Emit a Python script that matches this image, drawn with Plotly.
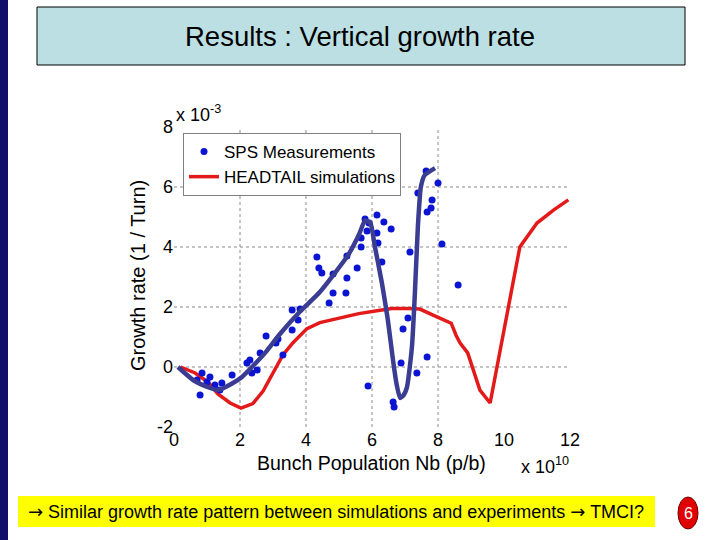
import plotly.graph_objects as go

# ---- data ----
meas_x = [0.70, 0.79, 0.85, 1.00, 1.09, 1.24, 1.39, 1.45, 1.76,
          2.21, 2.30, 2.36, 2.52, 2.61, 2.79, 3.09, 3.15, 3.30, 3.58, 3.76, 3.58, 3.82,
          4.70, 4.82, 5.21, 5.24, 4.82, 4.48, 4.39, 4.33, 5.24, 5.55, 5.67, 5.67,
          5.79, 5.91, 5.85, 6.15, 6.15, 6.18, 6.36, 6.58, 6.30,
          5.88, 6.64, 6.67, 6.88, 6.94, 7.09, 7.15, 7.36, 7.39, 7.64, 7.67, 7.67,
          7.79, 7.82, 8.00, 8.12, 8.61]
meas_y = [-0.43, -0.93, -0.20, -0.50, -0.33, -0.60, -0.77, -0.53, -0.27,
          0.13, 0.23, -0.20, -0.10, 0.47, 1.03, 0.80, 0.93, 0.40, 1.23, 1.57, 1.90, 1.93,
          2.13, 2.47, 2.47, 2.97, 3.10, 3.13, 3.30, 3.67, 3.70, 3.30, 4.00, 4.30,
          4.93, 4.80, 4.53, 5.07, 4.47, 4.13, 4.83, 4.60, 3.50,
          -0.63, -1.17, -1.33, 0.13, 1.27, 1.63, 3.83, -0.20, 5.80, 6.53, 5.17, 0.33,
          5.30, 5.57, 6.13, 4.10, 2.73]

fit_x = [0.12, 0.60, 1.03, 1.33, 1.76, 2.06, 2.45, 2.76, 3.21, 3.82, 4.42, 5.27,
         5.60, 5.79, 5.95, 6.09, 6.30, 6.48, 6.64, 6.75, 6.85, 6.95, 7.06, 7.21,
         7.30, 7.39, 7.48, 7.60, 7.91]
fit_y = [0.00, -0.45, -0.67, -0.77, -0.55, -0.33, 0.10, 0.47, 1.10, 1.85, 2.50, 3.72,
         4.40, 4.88, 4.80, 4.00, 2.80, 1.57, 0.20, -0.60, -1.03, -0.95, -0.67, 0.67,
         2.47, 4.67, 6.00, 6.40, 6.63]

sim_x = [0.20, 0.64, 1.03, 1.33, 1.70, 2.03, 2.39, 2.70, 3.00, 3.30, 3.60, 4.03,
         4.42, 5.00, 5.60, 6.20, 6.60, 7.10, 7.45, 7.85, 8.40, 8.55, 8.67, 8.90, 9.27,
         9.58, 9.88, 10.18, 10.48, 11.00, 11.50, 11.95]
sim_y = [0.00, -0.20, -0.50, -0.90, -1.20, -1.37, -1.22, -0.80, -0.20, 0.40, 0.80, 1.28,
         1.48, 1.62, 1.78, 1.88, 1.95, 1.95, 1.93, 1.73, 1.46, 1.05, 0.80, 0.47, -0.77,
         -1.20, 0.57, 2.33, 4.00, 4.80, 5.23, 5.57]

x_ticks = [0, 2, 4, 6, 8, 10, 12]
y_ticks = [-2, 0, 2, 4, 6, 8]
y_tick_text = ["-2", "0", "2", "4", "6", "8"]
grid_x = [2, 4, 6, 8]
grid_y = [0, 2, 4, 6]

FONT = "Liberation Sans, Arial, sans-serif"
ARROW = "<span style='font-family:DejaVu Sans'>→</span>"

fig = go.Figure()
fig.add_trace(go.Scatter(x=sim_x, y=sim_y, mode="lines", name="HEADTAIL simulations",
                         line=dict(color="#e41a1a", width=3.5), legendrank=2))
fig.add_trace(go.Scatter(x=meas_x, y=meas_y, mode="markers", name="SPS Measurements",
                         marker=dict(color="#0a14d2", size=7), legendrank=1))
fig.add_trace(go.Scatter(x=fit_x, y=fit_y, mode="lines", showlegend=False,
                         line=dict(color="#3a3d92", width=4.5, shape="spline", smoothing=0.5)))

shapes = []
for g in grid_x:
    shapes.append(dict(type="line", xref="x", yref="paper", x0=g, x1=g, y0=0, y1=1,
                       line=dict(color="#8a8a8a", width=1, dash="dot"), layer="below"))
for g in grid_y:
    shapes.append(dict(type="line", xref="paper", yref="y", x0=0, x1=1, y0=g, y1=g,
                       line=dict(color="#8a8a8a", width=1, dash="dot"), layer="below"))

# page decorations (paper coords: plot area is px 174..570, py 127..427)
def px(x):
    return (x - 174) / 396.0

def py(y):
    return (427 - y) / 300.0

shapes.append(dict(type="rect", xref="paper", yref="paper", x0=px(0), x1=px(8), y0=py(540), y1=py(0),
                   fillcolor="#10106a", line=dict(width=0), layer="below"))
shapes.append(dict(type="rect", xref="paper", yref="paper", x0=px(37), x1=px(685), y0=py(65), y1=py(7),
                   fillcolor="#bbdfe3", line=dict(color="black", width=1), layer="below"))
shapes.append(dict(type="rect", xref="paper", yref="paper", x0=px(18), x1=px(655), y0=py(527), y1=py(496),
                   fillcolor="#ffff00", line=dict(width=0), layer="below"))
shapes.append(dict(type="circle", xref="paper", yref="paper", x0=px(678), x1=px(698), y0=py(529), y1=py(497),
                   fillcolor="#e00000", line=dict(color="#700000", width=1), layer="below"))

def ann(text, x, y, size, xanchor="center", color="black", angle=0):
    return dict(text=text, x=px(x), y=py(y), xref="paper", yref="paper", xanchor=xanchor,
                yanchor="middle", textangle=angle, showarrow=False,
                font=dict(size=size, color=color, family=FONT))

annotations = [
    ann("Results : Vertical growth rate", 360, 37, 27.5),
    ann(ARROW + " Similar growth rate pattern between simulations and experiments " + ARROW + " TMCI?",
        26, 512, 18, xanchor="left"),
    ann("6", 688, 513, 16, color="white"),
    ann("Growth rate (1 / Turn)", 138, 276, 20, angle=-90),
    ann("Bunch Population Nb (p/b)", 371, 463, 19.5),
    ann("x 10<sup>10</sup>", 519, 466, 18, xanchor="left"),
    ann("x 10<sup>-3</sup>", 174, 113, 18, xanchor="left"),
]

fig.update_layout(
    width=720, height=540,
    margin=dict(l=174, r=150, t=127, b=113, autoexpand=False),
    paper_bgcolor="white", plot_bgcolor="white",
    font=dict(family=FONT, color="black"),
    shapes=shapes, annotations=annotations,
    legend=dict(x=px(183), y=py(133), xanchor="left", yanchor="top",
                bgcolor="white", bordercolor="#7f7f7f", borderwidth=1,
                font=dict(size=17, color="black", family=FONT), tracegroupgap=0),
    xaxis=dict(range=[0, 12], tickvals=x_ticks, showgrid=False, zeroline=False, showline=False,
               ticks="", tickfont=dict(size=18, color="black")),
    yaxis=dict(range=[-2, 8], tickvals=y_ticks, ticktext=y_tick_text, showgrid=False,
               zeroline=False, showline=False, ticks="", tickfont=dict(size=18, color="black")),
)

fig.write_html("out.html", config={"displayModeBar": False},
               post_script="document.body.style.margin='0px';")
